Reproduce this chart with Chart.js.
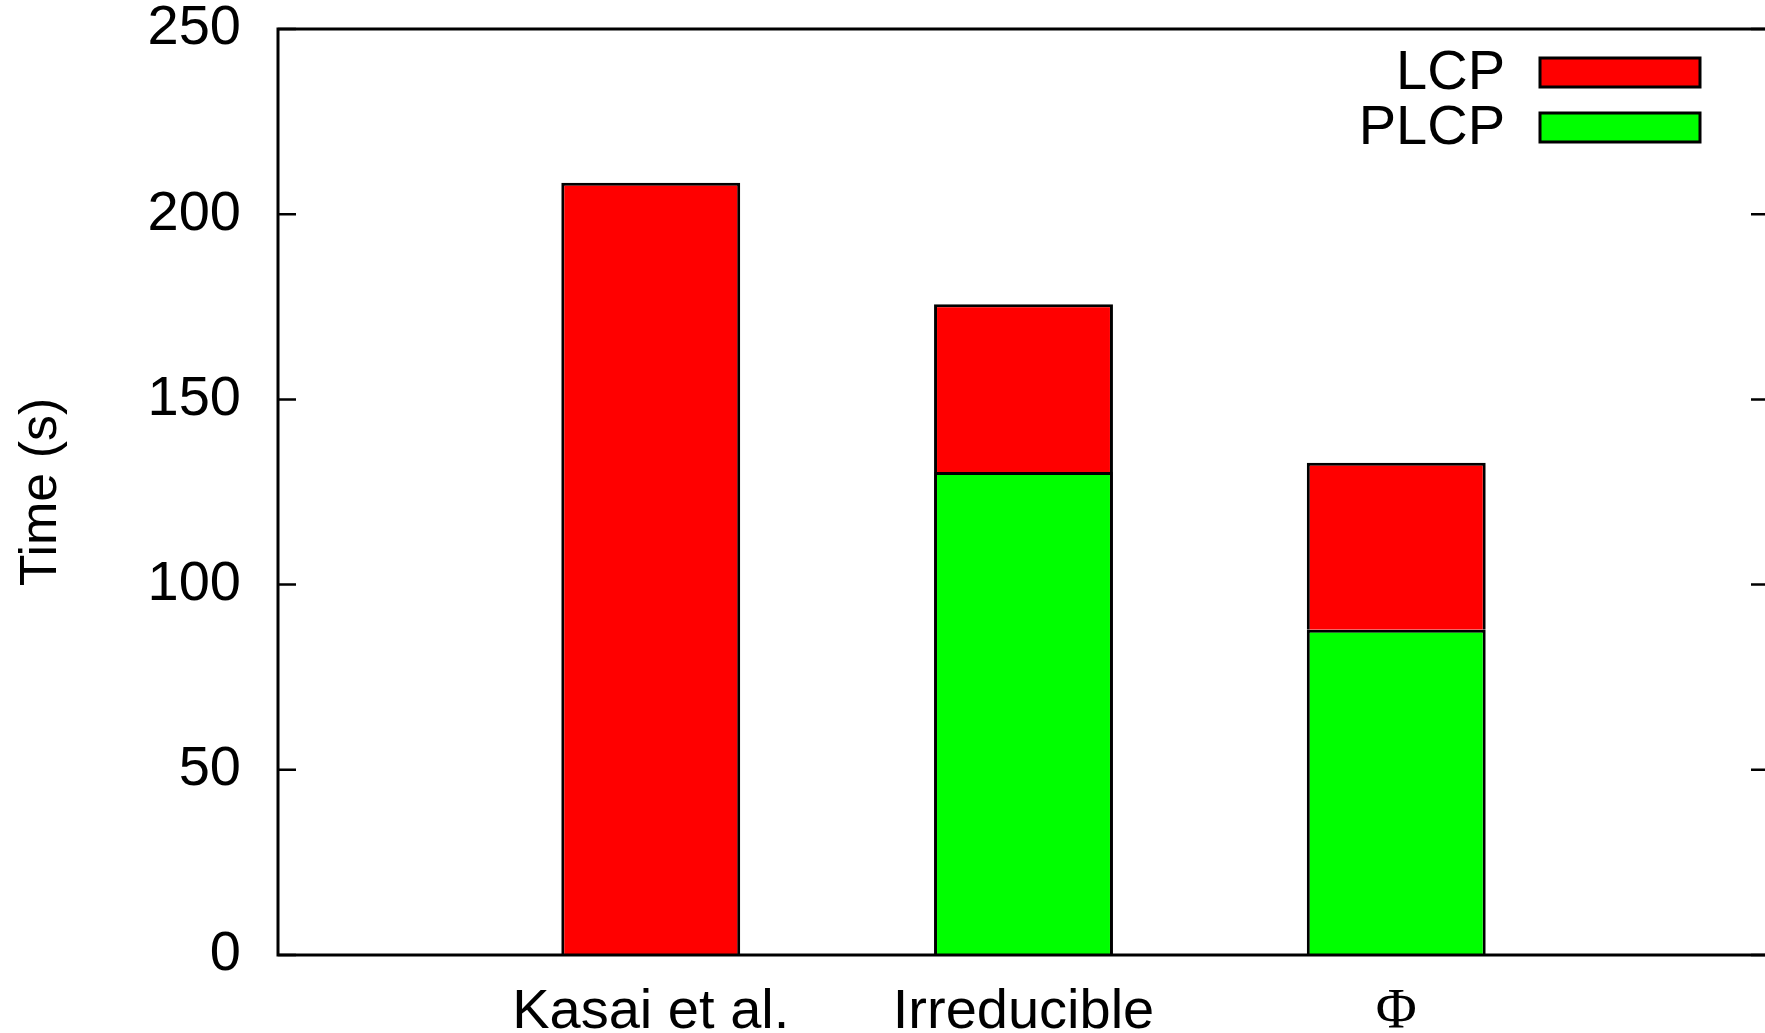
<!DOCTYPE html>
<html>
<head>
<meta charset="utf-8">
<script src="https://cdn.jsdelivr.net/npm/chart.js@4/dist/chart.umd.min.js"></script>
<style>
  html, body { margin: 0; padding: 0; background: #fff; overflow: hidden; }
  #wrap { width: 1770px; height: 1033px; }
</style>
</head>
<body>
<div id="wrap"><canvas id="myChart"></canvas></div>
<script>
const categories = ['Kasai et al.', 'Irreducible', 'Φ'];
const lcpValues = [208.5, 45.3, 45.1];
const plcpValues = [null, 130.4, 87.8];
const yTicks = [0, 50, 100, 150, 200, 250];

const sans = 'Liberation Sans, Arial, Helvetica, sans-serif';
const serif = 'Liberation Serif, Times New Roman, serif';

function points(values) {
  return values.map((v, i) => ({ x: i, y: v }));
}

// gnuplot style box around the plot with inward tics on both sides
const framePlugin = {
  id: 'frame',
  afterDatasetsDraw(chart) {
    const ctx = chart.ctx;
    const a = chart.chartArea;
    const y = chart.scales.y;
    ctx.save();
    ctx.strokeStyle = '#000';
    ctx.lineWidth = 3;
    ctx.strokeRect(a.left, a.top, a.right - a.left, a.bottom - a.top);
    ctx.lineWidth = 2.5;
    y.ticks.forEach(t => {
      const py = y.getPixelForValue(t.value);
      ctx.beginPath();
      ctx.moveTo(a.left, py);
      ctx.lineTo(a.left + 18, py);
      ctx.moveTo(a.right, py);
      ctx.lineTo(a.right - 18, py);
      ctx.stroke();
    });
    ctx.restore();
  }
};

// key in the top right corner: label first, sample box after
const keyPlugin = {
  id: 'key',
  afterDraw(chart) {
    const ctx = chart.ctx;
    const sets = chart.data.datasets.slice().reverse();
    ctx.save();
    ctx.font = '56px ' + sans;
    ctx.textAlign = 'right';
    ctx.textBaseline = 'middle';
    sets.forEach((ds, i) => {
      const top = 58 + i * 55;
      ctx.fillStyle = '#000';
      ctx.fillText(ds.label, 1505, top + 16);
      ctx.fillStyle = ds.backgroundColor;
      ctx.fillRect(1540, top, 160, 29);
      ctx.lineWidth = 3;
      ctx.strokeStyle = '#000';
      ctx.strokeRect(1540, top, 160, 29);
    });
    ctx.restore();
  }
};

const data = {
  datasets: [
    {
      label: 'PLCP',
      data: points(plcpValues),
      backgroundColor: '#00ff00',
      borderColor: '#000',
      borderWidth: 3
    },
    {
      label: 'LCP',
      data: points(lcpValues),
      backgroundColor: '#ff0000',
      borderColor: '#000',
      borderWidth: 3
    }
  ]
};

const config = {
  type: 'bar',
  data: data,
  plugins: [framePlugin, keyPlugin],
  options: {
    responsive: true,
    maintainAspectRatio: false,
    animation: false,
    layout: { padding: { top: 0, right: 1, bottom: 0, left: 0 } },
    datasets: { bar: { categoryPercentage: 1, barPercentage: 0.48 } },
    plugins: { legend: { display: false }, tooltip: { enabled: false } },
    scales: {
      x: {
        type: 'linear',
        stacked: true,
        offset: false,
        min: -1,
        max: 3,
        afterBuildTicks: s => { s.ticks = categories.map((c, i) => ({ value: i })); },
        afterFit: s => { s.height = 78; s.paddingLeft = 0; s.paddingRight = 0; },
        grid: { display: false, drawTicks: false },
        border: { display: false },
        ticks: {
          color: '#000',
          padding: 30,
          font: ctx => ({
            size: 56,
            family: categories[ctx.index] === 'Φ' ? serif : sans,
            lineHeight: 1
          }),
          callback: v => categories[v]
        }
      },
      y: {
        stacked: true,
        min: 0,
        max: 250,
        afterBuildTicks: s => { s.ticks = yTicks.map(v => ({ value: v })); },
        afterFit: s => { s.width = 278; s.paddingTop = 29; s.paddingBottom = 0; },
        grid: { display: false, drawTicks: false },
        border: { display: false },
        ticks: {
          color: '#000',
          padding: 37,
          font: { size: 56, family: sans, lineHeight: 1 }
        },
        title: {
          display: true,
          text: 'Time (s)',
          color: '#000',
          font: { size: 52, family: sans, lineHeight: 1 },
          padding: { top: 16, bottom: 0 }
        }
      }
    }
  }
};

const myChart = new Chart(document.getElementById('myChart'), config);
</script>
</body>
</html>
